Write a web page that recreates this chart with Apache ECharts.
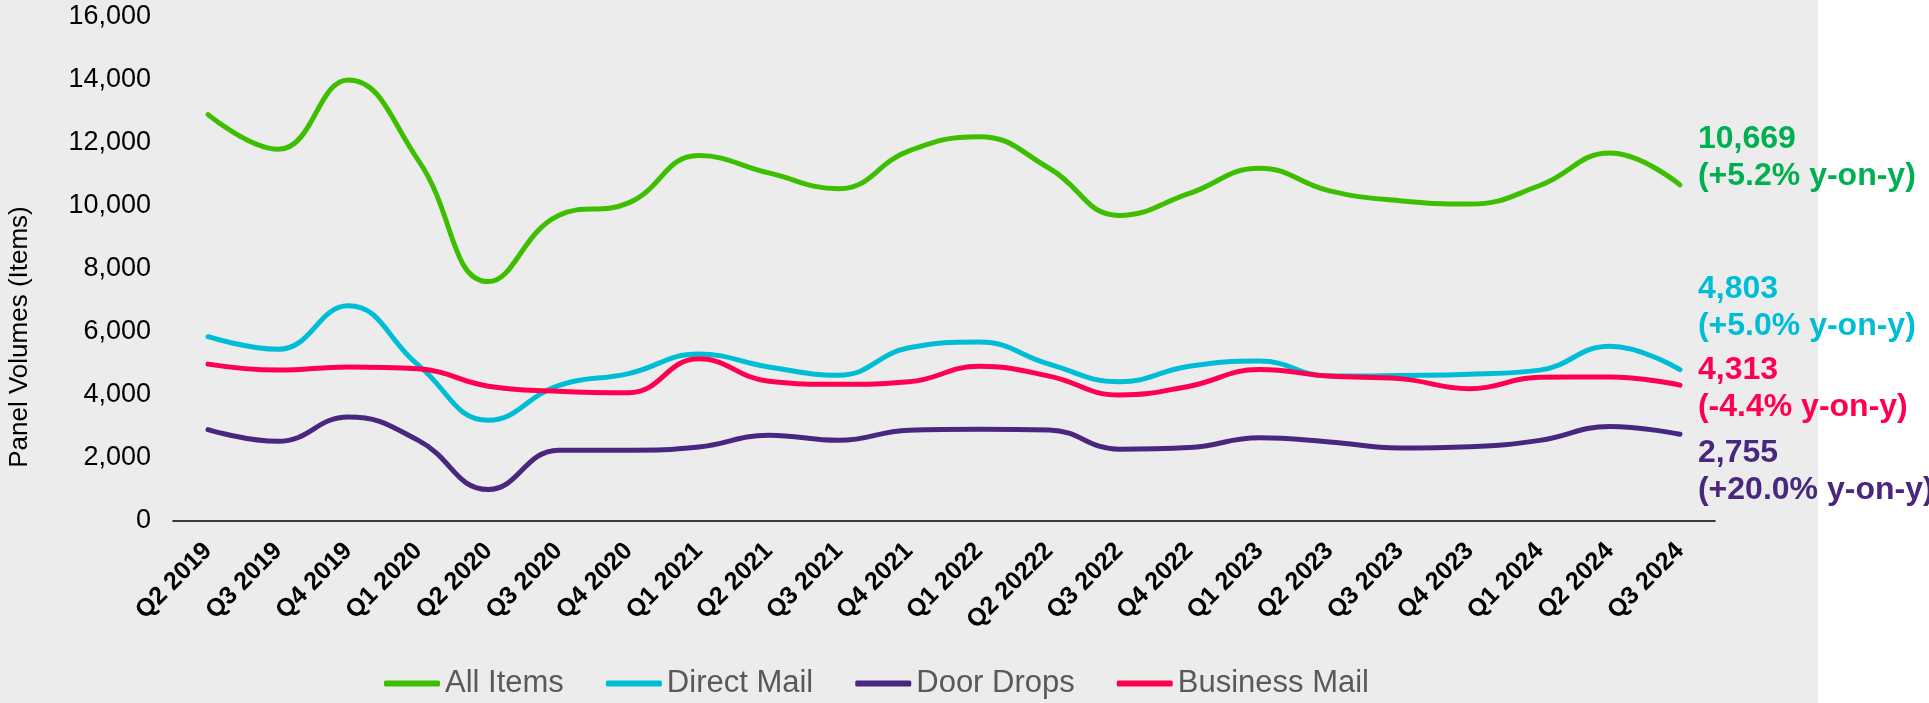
<!DOCTYPE html>
<html>
<head>
<meta charset="utf-8">
<title>Panel Volumes (Items)</title>
<script src="https://cdn.jsdelivr.net/npm/echarts@6/dist/echarts.min.js"></script>
<style>
  html, body { margin: 0; padding: 0; background: #ffffff; }
  #chart { width: 1929px; height: 703px; }
</style>
</head>
<body>
<div id="chart"></div>
<script>
// Quarter labels (the "Q2 20222" typo is kept as in the source chart)
const quarters = ['Q2 2019', 'Q3 2019', 'Q4 2019', 'Q1 2020', 'Q2 2020', 'Q3 2020', 'Q4 2020',
    'Q1 2021', 'Q2 2021', 'Q3 2021', 'Q4 2021', 'Q1 2022', 'Q2 20222', 'Q3 2022', 'Q4 2022',
    'Q1 2023', 'Q2 2023', 'Q3 2023', 'Q4 2023', 'Q1 2024', 'Q2 2024', 'Q3 2024'];

// Panel volumes per quarter (items)
const allItems     = [12900, 11800, 14000, 11450, 7600, 9700, 10100, 11600, 11050, 10550, 11750,
    12200, 11200, 9700, 10400, 11200, 10480, 10170, 10060, 10650, 11680, 10669];
const directMail   = [5850, 5450, 6830, 4950, 3200, 4300, 4680, 5300, 4890, 4630, 5500,
    5680, 4980, 4420, 4910, 5080, 4600, 4620, 4660, 4790, 5550, 4803];
const doorDrops    = [2900, 2530, 3300, 2560, 1000, 2250, 2250, 2350, 2720, 2560, 2880,
    2910, 2890, 2280, 2330, 2640, 2510, 2320, 2360, 2560, 3000, 2755];
const businessMail = [4980, 4790, 4890, 4830, 4280, 4120, 4070, 5150, 4440, 4340, 4420,
    4910, 4600, 4000, 4280, 4810, 4600, 4520, 4200, 4560, 4570, 4313];

// Year-on-year change shown next to the latest value
const seriesNames = ['All Items', 'Direct Mail', 'Door Drops', 'Business Mail'];
const yoyChange   = ['+5.2%', '+5.0%', '+20.0%', '-4.4%'];

const lineColors  = ['#3dbe00', '#00bdd6', '#4a277e', '#ff0050'];
const labelColors = ['#00b050', '#00bdd6', '#4a277e', '#ff0050'];
const labelShift  = [-27, -62, 37, 4];

const FONT = '"Liberation Sans", Arial, sans-serif';

const chart = echarts.init(document.getElementById('chart'));

function makeSeries(idx, values) {
    return {
        name: seriesNames[idx],
        type: 'line',
        data: values,
        smooth: 0.45,
        symbol: 'none',
        color: lineColors[idx],
        lineStyle: { width: 5, color: lineColors[idx], cap: 'round' },
        endLabel: {
            show: true,
            distance: 18,
            offset: [0, labelShift[idx]],
            color: labelColors[idx],
            fontFamily: FONT,
            fontWeight: 'bold',
            fontSize: 32,
            lineHeight: 37,
            formatter: function (p) {
                return Number(p.value).toLocaleString('en-US') + '\n(' + yoyChange[idx] + ' y-on-y)';
            }
        }
    };
}

const option = {
    animation: false,
    backgroundColor: 'transparent',
    textStyle: { fontFamily: FONT },
    graphic: [
        {
            type: 'rect',
            z: -10,
            silent: true,
            shape: { x: 0, y: 0, width: 1818, height: 703 },
            style: { fill: '#ececec' }
        },
        {
            type: 'text',
            x: 20,
            y: 337,
            rotation: Math.PI / 2,
            style: {
                text: 'Panel Volumes (Items)',
                fill: '#000000',
                font: '26px ' + FONT,
                align: 'center',
                verticalAlign: 'middle'
            }
        }
    ],
    grid: { left: 173, right: 214, top: 17, bottom: 182, containLabel: false },
    legend: {
        left: 379,
        top: 663,
        icon: 'roundRect',
        itemWidth: 56,
        itemHeight: 6,
        itemGap: 42,
        data: ['All Items', 'Direct Mail', 'Door Drops', 'Business Mail'],
        textStyle: { color: '#595959', fontSize: 31, fontFamily: FONT }
    },
    xAxis: {
        type: 'category',
        data: quarters,
        boundaryGap: true,
        axisLine: { show: true, lineStyle: { color: '#000000', width: 1.5 } },
        axisTick: { show: false },
        axisLabel: {
            interval: 0,
            rotate: 45,
            margin: 26,
            color: '#000000',
            fontWeight: 'bold',
            fontSize: 25,
            fontFamily: FONT
        }
    },
    yAxis: {
        type: 'value',
        min: 0,
        max: 16000,
        interval: 2000,
        axisLine: { show: false },
        axisTick: { show: false },
        splitLine: { show: false },
        axisLabel: {
            margin: 22,
            color: '#000000',
            fontSize: 27,
            fontFamily: FONT,
            formatter: function (v) { return v.toLocaleString('en-US'); }
        }
    },
    series: [
        makeSeries(0, allItems),
        makeSeries(1, directMail),
        makeSeries(2, doorDrops),
        makeSeries(3, businessMail)
    ]
};

chart.setOption(option);

window.addEventListener('resize', function () {
    chart.resize();
});
</script>
</body>
</html>
